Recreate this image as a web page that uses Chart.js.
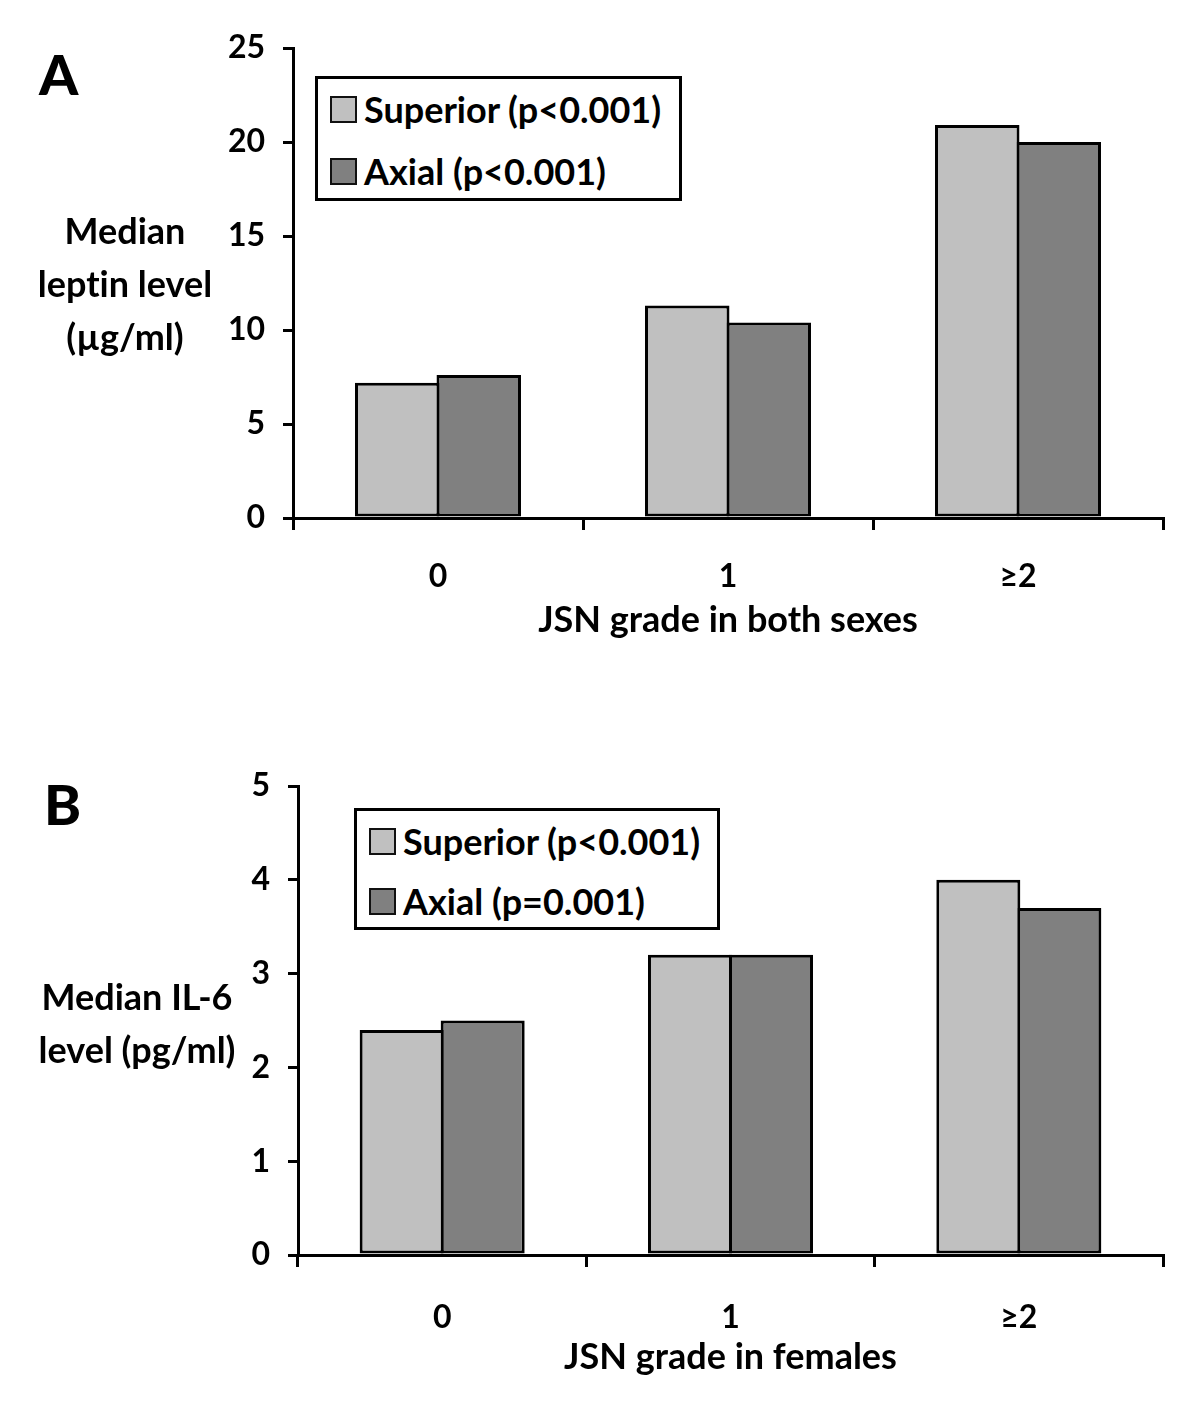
<!DOCTYPE html>
<html>
<head>
<meta charset="utf-8">
<script src="https://cdn.jsdelivr.net/npm/chart.js@4.4.1/dist/chart.umd.min.js"></script>
<style>
  html, body { margin: 0; padding: 0; background: #fff; }
  #wrap { position: relative; width: 1200px; height: 1415px; background: #fff; font-family: Lato, "Open Sans", sans-serif; font-weight: 700; color: #000; font-variant-ligatures: none; font-feature-settings: "liga" 0; }
  canvas { position: absolute; left: 0; }
  .panel { position: absolute; font-size: 56px; font-weight: 900; line-height: 1; }
  .ytitle { position: absolute; text-align: center; font-size: 36px; line-height: 53px; white-space: nowrap; transform: translateX(-50%); }
  .legend { position: absolute; border: 3px solid #000; box-sizing: border-box; background: #fff; }
  .legend .row { position: absolute; left: 12px; display: flex; align-items: center; font-size: 36px; white-space: nowrap; transform: translateY(-50%); }
  .legend .sw { width: 23px; height: 23px; border: 2px solid #111; margin-right: 7px; flex: none; }
</style>
</head>
<body>
<div id="wrap">
  <canvas id="cA" width="1200" height="660" style="top:0px"></canvas>
  <canvas id="cB" width="1200" height="715" style="top:700px"></canvas>
  <div class="panel" style="left:39px; top:46px;">A</div>
  <div class="panel" style="left:44px; top:776px;">B</div>
  <div class="ytitle" style="left:125px; top:204px;">Median<br>leptin level<br>(µg/ml)</div>
  <div class="ytitle" style="left:137px; top:970px;">Median IL-6<br>level (pg/ml)</div>
</div>
<script>
// ---- data ----
const categories = ['0', '1', '\u22652'];
const seriesNames = ['Superior', 'Axial'];
const seriesColors = ['#c0c0c0', '#808080'];

const leptinSuperior = [7.2, 11.3, 20.9];
const leptinAxial = [7.6, 10.4, 20.0];
const leptinLegend = ['Superior (p<0.001)', 'Axial (p<0.001)'];
const leptinTickMax = 25;
const leptinTickStep = 5;
const leptinXTitle = 'JSN grade in both sexes';

const il6Superior = [2.4, 3.2, 4.0];
const il6Axial = [2.5, 3.2, 3.7];
const il6Legend = ['Superior (p<0.001)', 'Axial (p=0.001)'];
const il6TickMax = 5;
const il6TickStep = 1;
const il6XTitle = 'JSN grade in females';

const FONT = 'Lato, "Open Sans", sans-serif';

function makeChart(canvasId, s1, s2, legendLabels, yMax, yStep, xTitle, geo) {
  const ds = [s1, s2].map((d, i) => ({
    label: legendLabels[i],
    data: d,
    backgroundColor: seriesColors[i],
    borderColor: '#000',
    borderWidth: 3,
    borderSkipped: false,
    categoryPercentage: 0.562,
    barPercentage: 1.037
  }));
  const chart = new Chart(document.getElementById(canvasId), {
    type: 'bar',
    data: { labels: categories, datasets: ds },
    options: {
      responsive: false,
      animation: false,
      devicePixelRatio: 1,
      layout: { padding: { top: geo.top, right: 37, left: 0, bottom: 0 } },
      plugins: { legend: { display: false }, tooltip: { enabled: false } },
      scales: {
        x: {
          grid: { display: true, drawOnChartArea: false, drawTicks: true, tickLength: 12, color: '#000', lineWidth: 3, offset: true },
          border: { display: true, color: '#000', width: 3 },
          ticks: { color: '#000', font: { family: FONT, size: 32, weight: '700' }, padding: geo.xTickPad, maxRotation: 0 },
          title: { display: true, text: xTitle, color: '#000', font: { family: FONT, size: 36, weight: '700' }, padding: { top: 0, bottom: geo.titlePad } },
          afterFit: (sc) => { sc.height = geo.xHeight; }
        },
        y: {
          min: 0, max: yMax,
          grid: { display: true, drawOnChartArea: false, drawTicks: true, tickLength: 10, color: '#000', lineWidth: 3 },
          border: { display: true, color: '#000', width: 3 },
          ticks: { stepSize: yStep, color: '#000', font: { family: FONT, size: 32, weight: '700' }, padding: 18 },
          afterFit: (sc) => { sc.width = geo.yWidth; }
        }
      }
    }
  });
  return chart;
}

function makeLegend(box, labels, rowsY) {
  const el = document.createElement('div');
  el.className = 'legend';
  el.style.left = box.left + 'px';
  el.style.top = box.top + 'px';
  el.style.width = box.width + 'px';
  el.style.height = box.height + 'px';
  labels.forEach((lab, i) => {
    const r = document.createElement('div');
    r.className = 'row';
    r.style.top = rowsY[i] + 'px';
    const sw = document.createElement('span');
    sw.className = 'sw';
    sw.style.background = seriesColors[i];
    const t = document.createElement('span');
    t.textContent = lab;
    r.appendChild(sw); r.appendChild(t);
    el.appendChild(r);
  });
  document.getElementById('wrap').appendChild(el);
}

function build() {
  makeChart('cA', leptinSuperior, leptinAxial, leptinLegend, leptinTickMax, leptinTickStep, leptinXTitle,
    { top: 48, xHeight: 142, yWidth: 293, xTickPad: 27, titlePad: 18 });
  makeChart('cB', il6Superior, il6Axial, il6Legend, il6TickMax, il6TickStep, il6XTitle,
    { top: 86, xHeight: 160, yWidth: 298, xTickPad: 31, titlePad: 36 });
  makeLegend({ left: 315, top: 76, width: 367, height: 125 }, leptinLegend, [30, 92]);
  makeLegend({ left: 354, top: 808, width: 366, height: 122 }, il6Legend, [30, 90]);
}

if (document.fonts && document.fonts.load) {
  Promise.all([document.fonts.load('700 30px Lato'), document.fonts.load('900 54px Lato')]).then(build, build);
} else { build(); }
</script>
</body>
</html>
